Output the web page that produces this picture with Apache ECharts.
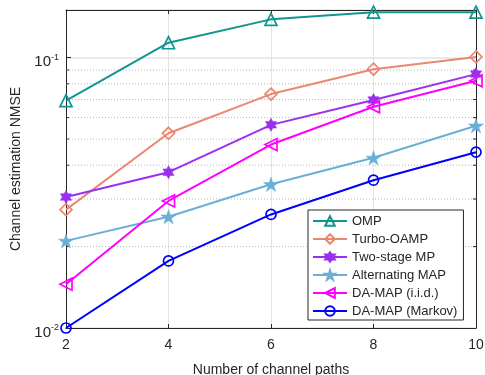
<!DOCTYPE html>
<html>
<head>
<meta charset="utf-8">
<script src="https://cdn.jsdelivr.net/npm/echarts@6/dist/echarts.min.js"></script>
<style>
  html, body { margin: 0; padding: 0; background: #fff; }
  #chart { width: 485px; height: 375px; }
</style>
</head>
<body>
<div id="chart"></div>
<script>
// Number of channel paths
const paths = [2, 4, 6, 8, 10];

// Channel estimation NMSE per method
const omp        = [0.0693, 0.1135, 0.1385, 0.1473, 0.1473];
const turboOamp  = [0.0274, 0.0525, 0.0733, 0.0906, 0.1006];
const twoStageMp = [0.0305, 0.0377, 0.0564, 0.0697, 0.0869];
const altMap     = [0.0210, 0.0258, 0.0340, 0.0426, 0.0560];
const daMapIid   = [0.01452, 0.0295, 0.0477, 0.0658, 0.0821];
const daMapMarkov= [0.0100, 0.0177, 0.0263, 0.0352, 0.0447];

// Minor decade lines of the log axis
const minorTicks = [0.02, 0.03, 0.04, 0.05, 0.06, 0.07, 0.08, 0.09];

const FONT = '"Liberation Sans", Arial, Helvetica, sans-serif';
const INK = '#262626';

const pentagram = 'path://M0,-100 L22.45,-30.9 L95.1,-30.9 L36.3,11.8 L58.8,80.9 L0,38.2 L-58.8,80.9 L-36.3,11.8 L-95.1,-30.9 L-22.45,-30.9 Z';
const hexagram = 'path://M0,-100 L28.87,-50 L86.6,-50 L57.7,0 L86.6,50 L28.87,50 L0,100 L-28.87,50 L-86.6,50 L-57.7,0 L-86.6,-50 L-28.87,-50 Z';

function pairs(ys) { return paths.map((x, i) => [x, ys[i]]); }

function lineSeries(name, ys, color, symbol, size, hollow, rotate) {
  return {
    name: name,
    type: 'line',
    data: pairs(ys),
    symbol: symbol,
    symbolSize: size,
    symbolRotate: rotate || 0,
    symbolKeepAspect: true,
    showAllSymbol: true,
    color: color,
    lineStyle: { color: color, width: 2 },
    itemStyle: hollow
      ? { color: 'rgba(255,255,255,0)', borderColor: color, borderWidth: 1.7 }
      : { color: color, borderColor: color, borderWidth: 0.5 },
    emphasis: { disabled: true },
    z: 3
  };
}

const fmtLog = v => {
  const e = Math.round(Math.log10(v));
  return '{b|10}{s|' + e + '}';
};
const supRich = {
  b: { fontSize: 15, fontFamily: FONT, color: INK },
  s: { fontSize: 9, fontFamily: FONT, color: INK, padding: [0, 0, 10, 0] }
};

const chart = echarts.init(document.getElementById('chart'), null, { renderer: 'canvas' });

chart.setOption({
  backgroundColor: '#fff',
  animation: false,
  textStyle: { fontFamily: FONT, color: INK },
  grid: { left: 66, right: 9, top: 10, bottom: 47, containLabel: false, outerBoundsMode: 'none' },
  xAxis: [{
    type: 'value', min: 2, max: 10, interval: 2,
    name: 'Number of channel paths', nameLocation: 'middle', nameGap: 35,
    nameTextStyle: { fontSize: 14, color: INK, fontFamily: FONT },
    axisLine: { show: true, lineStyle: { color: INK, width: 1 } },
    axisTick: { inside: true, length: 4, lineStyle: { color: INK } },
    axisLabel: { fontSize: 14, color: INK, margin: 10, fontFamily: FONT },
    splitLine: { show: true, lineStyle: { color: '#e3e3e3', width: 1 } }
  }, {
    type: 'value', min: 2, max: 10, interval: 2, position: 'top',
    axisLine: { show: true, lineStyle: { color: INK, width: 1 } },
    axisTick: { inside: true, length: 4, lineStyle: { color: INK } },
    axisLabel: { show: false },
    splitLine: { show: false }
  }],
  yAxis: [{
    type: 'log', logBase: 10, min: 0.01, max: 0.15,
    name: 'Channel estimation NMSE', nameLocation: 'middle', nameGap: 40,
    nameTextStyle: { fontSize: 14, color: INK, fontFamily: FONT },
    axisLine: { show: true, lineStyle: { color: INK, width: 1 } },
    axisTick: { inside: true, length: 5, lineStyle: { color: INK } },
    axisLabel: { formatter: fmtLog, rich: supRich, margin: 7, padding: [9, 0, 0, 0], showMaxLabel: false },
    splitLine: { show: true, lineStyle: { color: '#e3e3e3', width: 1.5 } }
  }, {
    type: 'log', logBase: 10, min: 0.01, max: 0.15, position: 'right',
    axisLine: { show: true, lineStyle: { color: INK, width: 1 } },
    axisTick: { inside: true, length: 5, lineStyle: { color: INK } },
    axisLabel: { show: false },
    splitLine: { show: false }
  }],
  legend: {
    orient: 'vertical',
    left: 308, top: 210,
    padding: [4, 6, 2, 4],
    itemWidth: 34, itemHeight: 12, itemGap: 4,
    backgroundColor: '#fff',
    borderColor: INK, borderWidth: 1,
    textStyle: { fontSize: 13, color: INK, fontFamily: FONT, lineHeight: 14 },
    data: ['OMP', 'Turbo-OAMP', 'Two-stage MP', 'Alternating MAP', 'DA-MAP (i.i.d.)', 'DA-MAP (Markov)']
  },
  series: [
    {
      // dotted minor gridlines with short inside ticks on both vertical axes
      type: 'custom',
      coordinateSystem: 'cartesian2d',
      silent: true,
      z: 1,
      data: minorTicks.map(v => [2, v]),
      renderItem: function (params, api) {
        const v = api.value(1);
        const a = api.coord([2, v]);
        const b = api.coord([10, v]);
        return {
          type: 'group',
          children: [
            { type: 'line', shape: { x1: a[0], y1: a[1], x2: b[0], y2: b[1] },
              style: { stroke: '#b8b8b8', lineWidth: 1, lineDash: [1, 2] } },
            { type: 'line', shape: { x1: a[0], y1: a[1], x2: a[0] + 3, y2: a[1] },
              style: { stroke: INK, lineWidth: 1 } },
            { type: 'line', shape: { x1: b[0] - 3, y1: b[1], x2: b[0], y2: b[1] },
              style: { stroke: INK, lineWidth: 1 } }
          ]
        };
      }
    },
    lineSeries('OMP', omp, '#109590', 'triangle', 12, true),
    lineSeries('Turbo-OAMP', turboOamp, '#ea8770', 'diamond', 12, true),
    lineSeries('Two-stage MP', twoStageMp, '#9b2ff0', hexagram, 13, false),
    lineSeries('Alternating MAP', altMap, '#6aafd6', pentagram, 15, false),
    lineSeries('DA-MAP (i.i.d.)', daMapIid, '#ff00ff', 'triangle', 12, true, 90),
    lineSeries('DA-MAP (Markov)', daMapMarkov, '#0000ff', 'circle', 10, true)
  ]
});
</script>
</body>
</html>
